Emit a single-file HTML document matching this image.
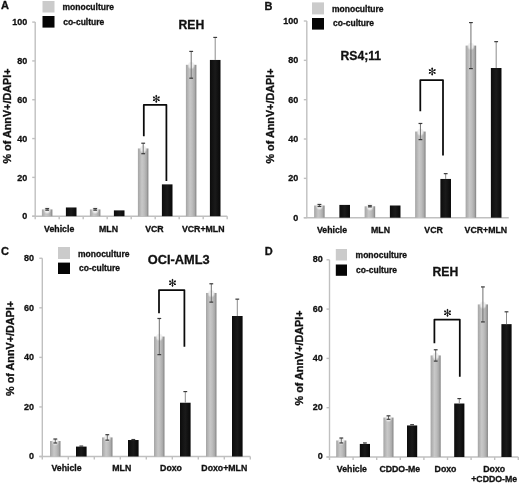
<!DOCTYPE html>
<html><head><meta charset="utf-8"><title>Apoptosis bar charts</title>
<style>
html,body{margin:0;padding:0;background:#fff;}
body{width:520px;height:483px;overflow:hidden;}
svg{display:block;font-family:"Liberation Sans", sans-serif;will-change:transform;}
text{stroke:#111;stroke-width:0.3px;}
</style></head>
<body>
<svg width="520" height="483" viewBox="0 0 520 483">
<defs>
<linearGradient id="gg" x1="0" x2="1" y1="0" y2="0">
<stop offset="0" stop-color="#a4a4a4"/>
<stop offset="0.15" stop-color="#b2b2b2"/>
<stop offset="0.38" stop-color="#c8c8c8"/>
<stop offset="0.6" stop-color="#bdbdbd"/>
<stop offset="0.82" stop-color="#a9a9a9"/>
<stop offset="0.93" stop-color="#8e8e8e"/>
<stop offset="1" stop-color="#9c9c9c"/>
</linearGradient>
<linearGradient id="kg" x1="0" x2="1" y1="0" y2="0">
<stop offset="0" stop-color="#0c0c0c"/>
<stop offset="0.5" stop-color="#1a1a1a"/>
<stop offset="1" stop-color="#080808"/>
</linearGradient>
<radialGradient id="cap">
<stop offset="0" stop-color="#fafafa"/>
<stop offset="0.55" stop-color="#ededed" stop-opacity="0.9"/>
<stop offset="1" stop-color="#dddddd" stop-opacity="0"/>
</radialGradient>
</defs>
<rect width="520" height="483" fill="#fff"/>
<g stroke="#c0c0c0" stroke-width="1.4" fill="none">
<line x1="35.2" y1="22.1" x2="35.2" y2="219.2"/>
<line x1="32.2" y1="216.2" x2="227.2" y2="216.2"/>
<line x1="32.2" y1="216.2" x2="35.2" y2="216.2"/>
<line x1="32.2" y1="177.38" x2="35.2" y2="177.38"/>
<line x1="32.2" y1="138.56" x2="35.2" y2="138.56"/>
<line x1="32.2" y1="99.74" x2="35.2" y2="99.74"/>
<line x1="32.2" y1="60.92" x2="35.2" y2="60.92"/>
<line x1="32.2" y1="22.1" x2="35.2" y2="22.1"/>
<line x1="59.2" y1="216.2" x2="59.2" y2="219.2"/>
<line x1="83.2" y1="216.2" x2="83.2" y2="219.2"/>
<line x1="107.2" y1="216.2" x2="107.2" y2="219.2"/>
<line x1="131.2" y1="216.2" x2="131.2" y2="219.2"/>
<line x1="155.2" y1="216.2" x2="155.2" y2="219.2"/>
<line x1="179.2" y1="216.2" x2="179.2" y2="219.2"/>
<line x1="203.2" y1="216.2" x2="203.2" y2="219.2"/>
<line x1="227.2" y1="216.2" x2="227.2" y2="219.2"/>
</g>
<g font-size="9" font-weight="bold" text-anchor="end" fill="#111">
<text x="27.2" y="219.4">0</text>
<text x="27.2" y="180.58">20</text>
<text x="27.2" y="141.76">40</text>
<text x="27.2" y="102.94">60</text>
<text x="27.2" y="64.12">80</text>
<text x="27.2" y="25.3">100</text>
</g>
<rect x="41.9" y="209.41" width="10.6" height="6.79" fill="url(#gg)"/>
<ellipse cx="47.2" cy="210.21" rx="3.92" ry="4.2" fill="url(#cap)"/>
<g stroke="#707070" stroke-width="1.0">
<line x1="47.2" y1="208.63" x2="47.2" y2="210.18"/>
<line x1="45.3" y1="208.63" x2="49.1" y2="208.63" stroke="#3a3a3a" stroke-width="1.2"/>
<line x1="45.3" y1="210.18" x2="49.1" y2="210.18" stroke="#3a3a3a" stroke-width="1.2"/>
</g>
<rect x="65.9" y="207.47" width="10.6" height="8.73" fill="url(#kg)"/>
<rect x="89.9" y="209.41" width="10.6" height="6.79" fill="url(#gg)"/>
<ellipse cx="95.2" cy="210.21" rx="3.92" ry="4.2" fill="url(#cap)"/>
<g stroke="#707070" stroke-width="1.0">
<line x1="95.2" y1="208.63" x2="95.2" y2="210.18"/>
<line x1="93.3" y1="208.63" x2="97.1" y2="208.63" stroke="#3a3a3a" stroke-width="1.2"/>
<line x1="93.3" y1="210.18" x2="97.1" y2="210.18" stroke="#3a3a3a" stroke-width="1.2"/>
</g>
<rect x="113.9" y="210.38" width="10.6" height="5.82" fill="url(#kg)"/>
<rect x="137.9" y="148.46" width="10.6" height="67.74" fill="url(#gg)"/>
<ellipse cx="143.2" cy="149.26" rx="3.92" ry="4.2" fill="url(#cap)"/>
<g stroke="#707070" stroke-width="1.0">
<line x1="143.2" y1="143.22" x2="143.2" y2="153.7"/>
<line x1="141.3" y1="143.22" x2="145.1" y2="143.22" stroke="#3a3a3a" stroke-width="1.2"/>
<line x1="141.3" y1="153.7" x2="145.1" y2="153.7" stroke="#3a3a3a" stroke-width="1.2"/>
</g>
<rect x="161.9" y="184.37" width="10.6" height="31.83" fill="url(#kg)"/>
<rect x="185.9" y="64.8" width="10.6" height="151.4" fill="url(#gg)"/>
<ellipse cx="191.2" cy="65.6" rx="3.92" ry="4.2" fill="url(#cap)"/>
<g stroke="#707070" stroke-width="1.0">
<line x1="191.2" y1="51.41" x2="191.2" y2="78.19"/>
<line x1="189.3" y1="51.41" x2="193.1" y2="51.41" stroke="#3a3a3a" stroke-width="1.2"/>
<line x1="189.3" y1="78.19" x2="193.1" y2="78.19" stroke="#3a3a3a" stroke-width="1.2"/>
</g>
<rect x="209.9" y="59.95" width="10.6" height="156.25" fill="url(#kg)"/>
<g stroke="#8c8c8c" stroke-width="1.0">
<line x1="215.2" y1="37.43" x2="215.2" y2="59.95"/>
<line x1="213.3" y1="37.43" x2="217.1" y2="37.43" stroke="#3a3a3a" stroke-width="1.2"/>
</g>
<g font-size="8.75" font-weight="bold" text-anchor="middle" fill="#111">
<text x="59.2" y="232">Vehicle</text>
<text x="108.5" y="232">MLN</text>
<text x="154.4" y="232">VCR</text>
<text x="203.2" y="232">VCR+MLN</text>
</g>
<rect x="42.5" y="1" width="12" height="11.5" fill="#cbcbcb"/>
<rect x="42.5" y="16" width="12" height="11.6" fill="#050505"/>
<g font-size="8.5" font-weight="bold" fill="#111">
<text x="62.5" y="10">monoculture</text>
<text x="63.2" y="24.5">co-culture</text>
</g>
<text x="178.5" y="29" font-size="12.2" font-weight="bold" fill="#111">REH</text>
<text x="1" y="9.3" font-size="11" font-weight="bold" fill="#111">A</text>
<text transform="translate(11 116) rotate(-90)" text-anchor="middle" font-size="10.8" font-weight="bold" fill="#111">% of AnnV+/DAPI+</text>
<path d="M143.8 136.2 V104.8 H166.4 V181" fill="none" stroke="#0a0a0a" stroke-width="1.75" stroke-linejoin="round"/>
<g stroke="#222" stroke-width="0.9" stroke-linecap="round"><line x1="156.3" y1="95.3" x2="156.3" y2="102.3"/><line x1="153.27" y1="97.05" x2="159.33" y2="100.55"/><line x1="153.27" y1="100.55" x2="159.33" y2="97.05"/></g><g fill="#111"><circle cx="156.3" cy="96.1" r="0.95"/><circle cx="156.3" cy="101.5" r="0.95"/><circle cx="153.96" cy="97.45" r="0.95"/><circle cx="158.64" cy="100.15" r="0.95"/><circle cx="153.96" cy="100.15" r="0.95"/><circle cx="158.64" cy="97.45" r="0.95"/></g>
<g stroke="#c0c0c0" stroke-width="1.4" fill="none">
<line x1="306.8" y1="21" x2="306.8" y2="218.1"/>
<line x1="303.8" y1="217.7" x2="508.8" y2="217.7"/>
<line x1="303.8" y1="217.7" x2="306.8" y2="217.7"/>
<line x1="303.8" y1="178.36" x2="306.8" y2="178.36"/>
<line x1="303.8" y1="139.02" x2="306.8" y2="139.02"/>
<line x1="303.8" y1="99.68" x2="306.8" y2="99.68"/>
<line x1="303.8" y1="60.34" x2="306.8" y2="60.34"/>
<line x1="303.8" y1="21" x2="306.8" y2="21"/>
</g>
<g font-size="9" font-weight="bold" text-anchor="end" fill="#111">
<text x="298.3" y="220.8">0</text>
<text x="298.3" y="181.46">20</text>
<text x="298.3" y="142.12">40</text>
<text x="298.3" y="102.78">60</text>
<text x="298.3" y="63.44">80</text>
<text x="298.3" y="24.1">100</text>
</g>
<rect x="314.12" y="205.5" width="10.6" height="12.2" fill="url(#gg)"/>
<ellipse cx="319.43" cy="206.3" rx="3.92" ry="4.2" fill="url(#cap)"/>
<g stroke="#707070" stroke-width="1.0">
<line x1="319.43" y1="204.52" x2="319.43" y2="206.49"/>
<line x1="317.53" y1="204.52" x2="321.32" y2="204.52" stroke="#3a3a3a" stroke-width="1.2"/>
<line x1="317.53" y1="206.49" x2="321.32" y2="206.49" stroke="#3a3a3a" stroke-width="1.2"/>
</g>
<rect x="339.38" y="204.91" width="10.6" height="12.79" fill="url(#kg)"/>
<rect x="364.62" y="206.29" width="10.6" height="11.41" fill="url(#gg)"/>
<ellipse cx="369.93" cy="207.09" rx="3.92" ry="4.2" fill="url(#cap)"/>
<g stroke="#707070" stroke-width="1.0">
<line x1="369.93" y1="205.7" x2="369.93" y2="206.88"/>
<line x1="368.03" y1="205.7" x2="371.82" y2="205.7" stroke="#3a3a3a" stroke-width="1.2"/>
<line x1="368.03" y1="206.88" x2="371.82" y2="206.88" stroke="#3a3a3a" stroke-width="1.2"/>
</g>
<rect x="389.88" y="205.5" width="10.6" height="12.2" fill="url(#kg)"/>
<rect x="415.12" y="131.55" width="10.6" height="86.15" fill="url(#gg)"/>
<ellipse cx="420.43" cy="132.35" rx="3.92" ry="4.2" fill="url(#cap)"/>
<g stroke="#707070" stroke-width="1.0">
<line x1="420.43" y1="123.48" x2="420.43" y2="139.61"/>
<line x1="418.53" y1="123.48" x2="422.32" y2="123.48" stroke="#3a3a3a" stroke-width="1.2"/>
<line x1="418.53" y1="139.61" x2="422.32" y2="139.61" stroke="#3a3a3a" stroke-width="1.2"/>
</g>
<rect x="440.38" y="178.95" width="10.6" height="38.75" fill="url(#kg)"/>
<g stroke="#8c8c8c" stroke-width="1.0">
<line x1="445.68" y1="173.64" x2="445.68" y2="178.95"/>
<line x1="443.78" y1="173.64" x2="447.57" y2="173.64" stroke="#3a3a3a" stroke-width="1.2"/>
</g>
<rect x="465.62" y="45.59" width="10.6" height="172.11" fill="url(#gg)"/>
<ellipse cx="470.93" cy="46.39" rx="3.92" ry="4.2" fill="url(#cap)"/>
<g stroke="#707070" stroke-width="1.0">
<line x1="470.93" y1="22.57" x2="470.93" y2="68.6"/>
<line x1="469.03" y1="22.57" x2="472.82" y2="22.57" stroke="#3a3a3a" stroke-width="1.2"/>
<line x1="469.03" y1="68.6" x2="472.82" y2="68.6" stroke="#3a3a3a" stroke-width="1.2"/>
</g>
<rect x="490.88" y="68.01" width="10.6" height="149.69" fill="url(#kg)"/>
<g stroke="#8c8c8c" stroke-width="1.0">
<line x1="496.18" y1="41.65" x2="496.18" y2="68.01"/>
<line x1="494.28" y1="41.65" x2="498.07" y2="41.65" stroke="#3a3a3a" stroke-width="1.2"/>
</g>
<g font-size="8.75" font-weight="bold" text-anchor="middle" fill="#111">
<text x="332.05" y="233">Vehicle</text>
<text x="380.55" y="233">MLN</text>
<text x="433.55" y="233">VCR</text>
<text x="485.85" y="233">VCR+MLN</text>
</g>
<rect x="312" y="2.4" width="12" height="12" fill="#cbcbcb"/>
<rect x="312" y="18" width="12" height="11.6" fill="#050505"/>
<g font-size="8.5" font-weight="bold" fill="#111">
<text x="332" y="11.5">monoculture</text>
<text x="333" y="26.2">co-culture</text>
</g>
<text x="340.5" y="60.2" font-size="12.2" font-weight="bold" fill="#111">RS4;11</text>
<text x="264.4" y="9.6" font-size="11" font-weight="bold" fill="#111">B</text>
<text transform="translate(273.7 116) rotate(-90)" text-anchor="middle" font-size="10.8" font-weight="bold" fill="#111">% of AnnV+/DAPI+</text>
<path d="M420.3 111.2 V80 H443 V155.5" fill="none" stroke="#0a0a0a" stroke-width="1.75" stroke-linejoin="round"/>
<g stroke="#222" stroke-width="0.9" stroke-linecap="round"><line x1="432.2" y1="68" x2="432.2" y2="75"/><line x1="429.17" y1="69.75" x2="435.23" y2="73.25"/><line x1="429.17" y1="73.25" x2="435.23" y2="69.75"/></g><g fill="#111"><circle cx="432.2" cy="68.8" r="0.95"/><circle cx="432.2" cy="74.2" r="0.95"/><circle cx="429.86" cy="70.15" r="0.95"/><circle cx="434.54" cy="72.85" r="0.95"/><circle cx="429.86" cy="72.85" r="0.95"/><circle cx="434.54" cy="70.15" r="0.95"/></g>
<g stroke="#c0c0c0" stroke-width="1.4" fill="none">
<line x1="42.3" y1="258.26" x2="42.3" y2="459.5"/>
<line x1="39.3" y1="456.5" x2="250.3" y2="456.5"/>
<line x1="39.3" y1="456.5" x2="42.3" y2="456.5"/>
<line x1="39.3" y1="406.94" x2="42.3" y2="406.94"/>
<line x1="39.3" y1="357.38" x2="42.3" y2="357.38"/>
<line x1="39.3" y1="307.82" x2="42.3" y2="307.82"/>
<line x1="39.3" y1="258.26" x2="42.3" y2="258.26"/>
<line x1="68.3" y1="456.5" x2="68.3" y2="459.5"/>
<line x1="94.3" y1="456.5" x2="94.3" y2="459.5"/>
<line x1="120.3" y1="456.5" x2="120.3" y2="459.5"/>
<line x1="146.3" y1="456.5" x2="146.3" y2="459.5"/>
<line x1="172.3" y1="456.5" x2="172.3" y2="459.5"/>
<line x1="198.3" y1="456.5" x2="198.3" y2="459.5"/>
<line x1="224.3" y1="456.5" x2="224.3" y2="459.5"/>
<line x1="250.3" y1="456.5" x2="250.3" y2="459.5"/>
</g>
<g font-size="9" font-weight="bold" text-anchor="end" fill="#111">
<text x="34" y="459.2">0</text>
<text x="34" y="409.64">20</text>
<text x="34" y="360.08">40</text>
<text x="34" y="310.52">60</text>
<text x="34" y="260.96">80</text>
</g>
<rect x="50" y="441.01" width="10.6" height="15.49" fill="url(#gg)"/>
<ellipse cx="55.3" cy="441.81" rx="3.92" ry="4.2" fill="url(#cap)"/>
<g stroke="#707070" stroke-width="1.0">
<line x1="55.3" y1="439.03" x2="55.3" y2="442.99"/>
<line x1="53.4" y1="439.03" x2="57.2" y2="439.03" stroke="#3a3a3a" stroke-width="1.2"/>
<line x1="53.4" y1="442.99" x2="57.2" y2="442.99" stroke="#3a3a3a" stroke-width="1.2"/>
</g>
<rect x="76" y="446.59" width="10.6" height="9.91" fill="url(#kg)"/>
<g stroke="#8c8c8c" stroke-width="1.0">
<line x1="81.3" y1="446.09" x2="81.3" y2="446.59"/>
<line x1="79.4" y1="446.09" x2="83.2" y2="446.09" stroke="#3a3a3a" stroke-width="1.2"/>
</g>
<rect x="102" y="437.42" width="10.6" height="19.08" fill="url(#gg)"/>
<ellipse cx="107.3" cy="438.22" rx="3.92" ry="4.2" fill="url(#cap)"/>
<g stroke="#707070" stroke-width="1.0">
<line x1="107.3" y1="434.69" x2="107.3" y2="440.15"/>
<line x1="105.4" y1="434.69" x2="109.2" y2="434.69" stroke="#3a3a3a" stroke-width="1.2"/>
<line x1="105.4" y1="440.15" x2="109.2" y2="440.15" stroke="#3a3a3a" stroke-width="1.2"/>
</g>
<rect x="128" y="440.02" width="10.6" height="16.48" fill="url(#kg)"/>
<g stroke="#8c8c8c" stroke-width="1.0">
<line x1="133.3" y1="439.53" x2="133.3" y2="440.02"/>
<line x1="131.4" y1="439.53" x2="135.2" y2="439.53" stroke="#3a3a3a" stroke-width="1.2"/>
</g>
<rect x="154" y="336.56" width="10.6" height="119.94" fill="url(#gg)"/>
<ellipse cx="159.3" cy="337.36" rx="3.92" ry="4.2" fill="url(#cap)"/>
<g stroke="#707070" stroke-width="1.0">
<line x1="159.3" y1="318.48" x2="159.3" y2="354.65"/>
<line x1="157.4" y1="318.48" x2="161.2" y2="318.48" stroke="#3a3a3a" stroke-width="1.2"/>
<line x1="157.4" y1="354.65" x2="161.2" y2="354.65" stroke="#3a3a3a" stroke-width="1.2"/>
</g>
<rect x="180" y="402.73" width="10.6" height="53.77" fill="url(#kg)"/>
<g stroke="#8c8c8c" stroke-width="1.0">
<line x1="185.3" y1="391.58" x2="185.3" y2="402.73"/>
<line x1="183.4" y1="391.58" x2="187.2" y2="391.58" stroke="#3a3a3a" stroke-width="1.2"/>
</g>
<rect x="206" y="292.95" width="10.6" height="163.55" fill="url(#gg)"/>
<ellipse cx="211.3" cy="293.75" rx="3.92" ry="4.2" fill="url(#cap)"/>
<g stroke="#707070" stroke-width="1.0">
<line x1="211.3" y1="283.78" x2="211.3" y2="302.12"/>
<line x1="209.4" y1="283.78" x2="213.2" y2="283.78" stroke="#3a3a3a" stroke-width="1.2"/>
<line x1="209.4" y1="302.12" x2="213.2" y2="302.12" stroke="#3a3a3a" stroke-width="1.2"/>
</g>
<rect x="232" y="316" width="10.6" height="140.5" fill="url(#kg)"/>
<g stroke="#8c8c8c" stroke-width="1.0">
<line x1="237.3" y1="299.15" x2="237.3" y2="316"/>
<line x1="235.4" y1="299.15" x2="239.2" y2="299.15" stroke="#3a3a3a" stroke-width="1.2"/>
</g>
<g font-size="8.75" font-weight="bold" text-anchor="middle" fill="#111">
<text x="66.6" y="471">Vehicle</text>
<text x="121.8" y="471">MLN</text>
<text x="171" y="471">Doxo</text>
<text x="224.3" y="471">Doxo+MLN</text>
</g>
<rect x="58" y="247" width="12" height="12" fill="#cbcbcb"/>
<rect x="58" y="262.6" width="12" height="11.4" fill="#050505"/>
<g font-size="8.5" font-weight="bold" fill="#111">
<text x="78" y="256.5">monoculture</text>
<text x="79" y="271">co-culture</text>
</g>
<text x="147.8" y="264.2" font-size="12.8" font-weight="bold" fill="#111">OCI-AML3</text>
<text x="1" y="254.8" font-size="11" font-weight="bold" fill="#111">C</text>
<text transform="translate(13.6 348.4) rotate(-90)" text-anchor="middle" font-size="10.8" font-weight="bold" fill="#111">% of AnnV+/DAPI+</text>
<path d="M159 313.3 V290 H184.4 V346.7" fill="none" stroke="#0a0a0a" stroke-width="1.75" stroke-linejoin="round"/>
<g stroke="#222" stroke-width="0.9" stroke-linecap="round"><line x1="172.5" y1="279.3" x2="172.5" y2="286.3"/><line x1="169.47" y1="281.05" x2="175.53" y2="284.55"/><line x1="169.47" y1="284.55" x2="175.53" y2="281.05"/></g><g fill="#111"><circle cx="172.5" cy="280.1" r="0.95"/><circle cx="172.5" cy="285.5" r="0.95"/><circle cx="170.16" cy="281.45" r="0.95"/><circle cx="174.84" cy="284.15" r="0.95"/><circle cx="170.16" cy="284.15" r="0.95"/><circle cx="174.84" cy="281.45" r="0.95"/></g>
<g stroke="#c0c0c0" stroke-width="1.4" fill="none">
<line x1="329.5" y1="259.8" x2="329.5" y2="460"/>
<line x1="326.5" y1="457" x2="518.3" y2="457"/>
<line x1="326.5" y1="457" x2="329.5" y2="457"/>
<line x1="326.5" y1="407.7" x2="329.5" y2="407.7"/>
<line x1="326.5" y1="358.4" x2="329.5" y2="358.4"/>
<line x1="326.5" y1="309.1" x2="329.5" y2="309.1"/>
<line x1="326.5" y1="259.8" x2="329.5" y2="259.8"/>
<line x1="353.1" y1="457" x2="353.1" y2="460"/>
<line x1="376.7" y1="457" x2="376.7" y2="460"/>
<line x1="400.3" y1="457" x2="400.3" y2="460"/>
<line x1="423.9" y1="457" x2="423.9" y2="460"/>
<line x1="447.5" y1="457" x2="447.5" y2="460"/>
<line x1="471.1" y1="457" x2="471.1" y2="460"/>
<line x1="494.7" y1="457" x2="494.7" y2="460"/>
<line x1="518.3" y1="457" x2="518.3" y2="460"/>
</g>
<g font-size="9" font-weight="bold" text-anchor="end" fill="#111">
<text x="322.8" y="459.4">0</text>
<text x="322.8" y="410.1">20</text>
<text x="322.8" y="360.8">40</text>
<text x="322.8" y="311.5">60</text>
<text x="322.8" y="262.2">80</text>
</g>
<rect x="336.2" y="440.48" width="10.2" height="16.52" fill="url(#gg)"/>
<ellipse cx="341.3" cy="441.28" rx="3.77" ry="4.2" fill="url(#cap)"/>
<g stroke="#707070" stroke-width="1.0">
<line x1="341.3" y1="438.02" x2="341.3" y2="442.95"/>
<line x1="339.4" y1="438.02" x2="343.2" y2="438.02" stroke="#3a3a3a" stroke-width="1.2"/>
<line x1="339.4" y1="442.95" x2="343.2" y2="442.95" stroke="#3a3a3a" stroke-width="1.2"/>
</g>
<rect x="359.8" y="443.94" width="10.2" height="13.06" fill="url(#kg)"/>
<g stroke="#8c8c8c" stroke-width="1.0">
<line x1="364.9" y1="442.95" x2="364.9" y2="443.94"/>
<line x1="363" y1="442.95" x2="366.8" y2="442.95" stroke="#3a3a3a" stroke-width="1.2"/>
</g>
<rect x="383.4" y="417.56" width="10.2" height="39.44" fill="url(#gg)"/>
<ellipse cx="388.5" cy="418.36" rx="3.77" ry="4.2" fill="url(#cap)"/>
<g stroke="#707070" stroke-width="1.0">
<line x1="388.5" y1="415.83" x2="388.5" y2="419.29"/>
<line x1="386.6" y1="415.83" x2="390.4" y2="415.83" stroke="#3a3a3a" stroke-width="1.2"/>
<line x1="386.6" y1="419.29" x2="390.4" y2="419.29" stroke="#3a3a3a" stroke-width="1.2"/>
</g>
<rect x="407" y="425.45" width="10.2" height="31.55" fill="url(#kg)"/>
<g stroke="#8c8c8c" stroke-width="1.0">
<line x1="412.1" y1="424.71" x2="412.1" y2="425.45"/>
<line x1="410.2" y1="424.71" x2="414" y2="424.71" stroke="#3a3a3a" stroke-width="1.2"/>
</g>
<rect x="430.6" y="355.44" width="10.2" height="101.56" fill="url(#gg)"/>
<ellipse cx="435.7" cy="356.24" rx="3.77" ry="4.2" fill="url(#cap)"/>
<g stroke="#707070" stroke-width="1.0">
<line x1="435.7" y1="349.77" x2="435.7" y2="361.11"/>
<line x1="433.8" y1="349.77" x2="437.6" y2="349.77" stroke="#3a3a3a" stroke-width="1.2"/>
<line x1="433.8" y1="361.11" x2="437.6" y2="361.11" stroke="#3a3a3a" stroke-width="1.2"/>
</g>
<rect x="454.2" y="403.51" width="10.2" height="53.49" fill="url(#kg)"/>
<g stroke="#8c8c8c" stroke-width="1.0">
<line x1="459.3" y1="398.58" x2="459.3" y2="403.51"/>
<line x1="457.4" y1="398.58" x2="461.2" y2="398.58" stroke="#3a3a3a" stroke-width="1.2"/>
</g>
<rect x="477.8" y="304.42" width="10.2" height="152.58" fill="url(#gg)"/>
<ellipse cx="482.9" cy="305.22" rx="3.77" ry="4.2" fill="url(#cap)"/>
<g stroke="#707070" stroke-width="1.0">
<line x1="482.9" y1="286.92" x2="482.9" y2="321.92"/>
<line x1="481" y1="286.92" x2="484.8" y2="286.92" stroke="#3a3a3a" stroke-width="1.2"/>
<line x1="481" y1="321.92" x2="484.8" y2="321.92" stroke="#3a3a3a" stroke-width="1.2"/>
</g>
<rect x="501.4" y="324.14" width="10.2" height="132.86" fill="url(#kg)"/>
<g stroke="#8c8c8c" stroke-width="1.0">
<line x1="506.5" y1="311.81" x2="506.5" y2="324.14"/>
<line x1="504.6" y1="311.81" x2="508.4" y2="311.81" stroke="#3a3a3a" stroke-width="1.2"/>
</g>
<g font-size="8.75" font-weight="bold" text-anchor="middle" fill="#111">
<text x="351.9" y="472">Vehicle</text>
<text x="399.8" y="472">CDDO-Me</text>
<text x="445.5" y="472">Doxo</text>
<text x="494.2" y="472">Doxo</text>
<text x="494.2" y="482.2">+CDDO-Me</text>
</g>
<rect x="335.8" y="249" width="11.2" height="11.5" fill="#cbcbcb"/>
<rect x="335.8" y="264.5" width="11.2" height="11.3" fill="#050505"/>
<g font-size="8.5" font-weight="bold" fill="#111">
<text x="355.6" y="258">monoculture</text>
<text x="356" y="273">co-culture</text>
</g>
<text x="432.5" y="276" font-size="12.2" font-weight="bold" fill="#111">REH</text>
<text x="264.8" y="254.5" font-size="11" font-weight="bold" fill="#111">D</text>
<text transform="translate(302.8 357.9) rotate(-90)" text-anchor="middle" font-size="10.8" font-weight="bold" fill="#111">% of AnnV+/DAPI+</text>
<path d="M434.4 343.2 V319.5 H459.8 V376.8" fill="none" stroke="#0a0a0a" stroke-width="1.75" stroke-linejoin="round"/>
<g stroke="#222" stroke-width="0.9" stroke-linecap="round"><line x1="447.5" y1="309.3" x2="447.5" y2="316.3"/><line x1="444.47" y1="311.05" x2="450.53" y2="314.55"/><line x1="444.47" y1="314.55" x2="450.53" y2="311.05"/></g><g fill="#111"><circle cx="447.5" cy="310.1" r="0.95"/><circle cx="447.5" cy="315.5" r="0.95"/><circle cx="445.16" cy="311.45" r="0.95"/><circle cx="449.84" cy="314.15" r="0.95"/><circle cx="445.16" cy="314.15" r="0.95"/><circle cx="449.84" cy="311.45" r="0.95"/></g>
</svg>
</body></html>
